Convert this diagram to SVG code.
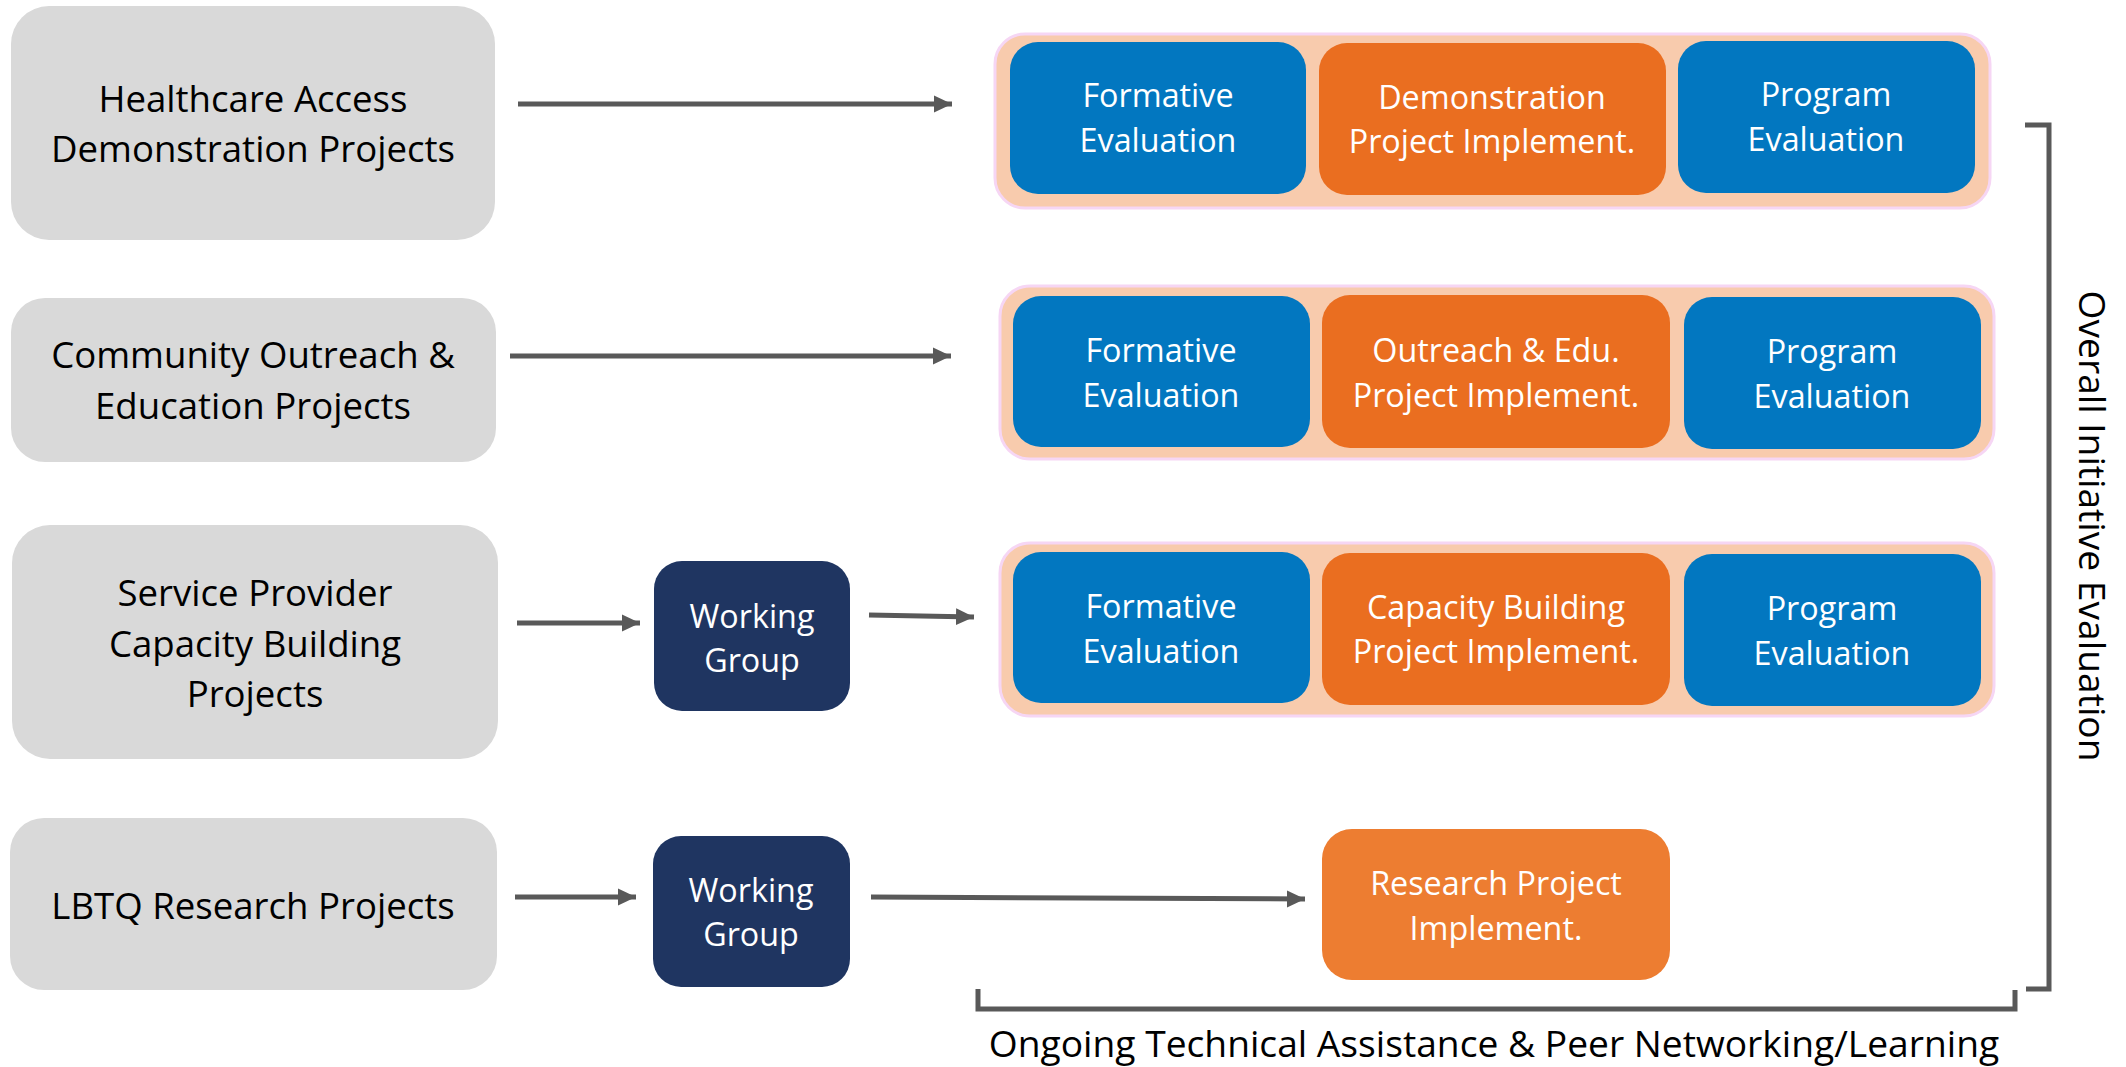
<svg xmlns="http://www.w3.org/2000/svg" width="2126" height="1067" viewBox="0 0 2126 1067">
<defs>
<style>
.src{fill:#D9D9D9}
.srct{font-family:"Open Sans","Liberation Sans",sans-serif;font-size:36.6px;fill:#000;text-anchor:middle}
.band{fill:#F8CBAD;stroke:#F6D6F4;stroke-width:3}
.blue{fill:#0277C0}
.org{fill:#EA6E20}
.org2{fill:#ED7D31}
.navy{fill:#1F3561}
.wt{font-family:"Open Sans","Liberation Sans",sans-serif;font-size:32.3px;fill:#fff;text-anchor:middle}
.big{font-family:"Open Sans","Liberation Sans",sans-serif;font-size:37.2px;fill:#000;text-anchor:middle}
.conn{stroke:#595959;stroke-width:5;fill:none}
.brk{stroke:#595959;stroke-width:5;fill:none}
</style>
<marker id="ah" markerUnits="userSpaceOnUse" markerWidth="20" markerHeight="20" viewBox="0 0 20 20" refX="18" refY="10" orient="auto">
<path d="M0,1.5 L18,10 L0,18.5 Z" fill="#595959"/>
</marker>
</defs>
<rect width="2126" height="1067" fill="#fff"/>

<g id="healthcare">
<rect class="src" x="11" y="6" width="484" height="234" rx="38"/>
<text class="srct" x="253" y="112">Healthcare Access</text>
<text class="srct" x="253" y="162">Demonstration Projects</text>
</g>
<g id="community">
<rect class="src" x="11" y="298" width="485" height="164" rx="34"/>
<text class="srct" x="253" y="368">Community Outreach &amp;</text>
<text class="srct" x="253" y="419">Education Projects</text>
</g>
<g id="service">
<rect class="src" x="12" y="525" width="486" height="234" rx="38"/>
<text class="srct" x="255" y="606">Service Provider</text>
<text class="srct" x="255" y="657">Capacity Building</text>
<text class="srct" x="255" y="707">Projects</text>
</g>
<g id="lbtq">
<rect class="src" x="10" y="818" width="487" height="172" rx="34"/>
<text class="srct" x="253" y="919">LBTQ Research Projects</text>
</g>

<g id="row1">
<rect class="band" x="995" y="34" width="995" height="174" rx="30"/>
</g>
<g id="formative1">
<rect class="blue" x="1010" y="42" width="296" height="152" rx="28"/>
<text class="wt" x="1158" y="107">Formative</text>
<text class="wt" x="1158" y="152">Evaluation</text>
</g>
<g id="demo-impl">
<rect class="org" x="1319" y="43" width="347" height="152" rx="28"/>
<text class="wt" x="1492" y="109">Demonstration</text>
<text class="wt" x="1492" y="153">Project Implement.</text>
</g>
<g id="program1">
<rect class="blue" x="1678" y="41" width="297" height="152" rx="28"/>
<text class="wt" x="1826" y="106">Program</text>
<text class="wt" x="1826" y="151">Evaluation</text>
</g>

<g id="row2">
<rect class="band" x="1000" y="286" width="994" height="173" rx="30"/>
</g>
<g id="formative2">
<rect class="blue" x="1013" y="296" width="297" height="151" rx="28"/>
<text class="wt" x="1161" y="362">Formative</text>
<text class="wt" x="1161" y="407">Evaluation</text>
</g>
<g id="outreach-impl">
<rect class="org" x="1322" y="295" width="348" height="153" rx="28"/>
<text class="wt" x="1496" y="362">Outreach &amp; Edu.</text>
<text class="wt" x="1496" y="407">Project Implement.</text>
</g>
<g id="program2">
<rect class="blue" x="1684" y="297" width="297" height="152" rx="28"/>
<text class="wt" x="1832" y="363">Program</text>
<text class="wt" x="1832" y="408">Evaluation</text>
</g>

<g id="row3">
<rect class="band" x="1000" y="543" width="994" height="173" rx="30"/>
</g>
<g id="formative3">
<rect class="blue" x="1013" y="552" width="297" height="151" rx="28"/>
<text class="wt" x="1161" y="618">Formative</text>
<text class="wt" x="1161" y="663">Evaluation</text>
</g>
<g id="capacity-impl">
<rect class="org" x="1322" y="553" width="348" height="152" rx="28"/>
<text class="wt" x="1496" y="619">Capacity Building</text>
<text class="wt" x="1496" y="663">Project Implement.</text>
</g>
<g id="program3">
<rect class="blue" x="1684" y="554" width="297" height="152" rx="28"/>
<text class="wt" x="1832" y="620">Program</text>
<text class="wt" x="1832" y="665">Evaluation</text>
</g>

<g id="wg1">
<rect class="navy" x="654" y="561" width="196" height="150" rx="28"/>
<text class="wt" x="752" y="628">Working</text>
<text class="wt" x="752" y="672">Group</text>
</g>
<g id="wg2">
<rect class="navy" x="653" y="836" width="197" height="151" rx="28"/>
<text class="wt" x="751" y="902">Working</text>
<text class="wt" x="751" y="946">Group</text>
</g>
<g id="research-impl">
<rect class="org2" x="1322" y="829" width="348" height="151" rx="30"/>
<text class="wt" x="1496" y="895">Research Project</text>
<text class="wt" x="1496" y="940">Implement.</text>
</g>

<g id="connectors">
<line class="conn" x1="518" y1="104" x2="952" y2="104" marker-end="url(#ah)"/>
<line class="conn" x1="510" y1="356" x2="951" y2="356" marker-end="url(#ah)"/>
<line class="conn" x1="517" y1="623" x2="640" y2="623" marker-end="url(#ah)"/>
<line class="conn" x1="869" y1="615" x2="974" y2="617" marker-end="url(#ah)"/>
<line class="conn" x1="515" y1="897" x2="636" y2="897" marker-end="url(#ah)"/>
<line class="conn" x1="871" y1="897" x2="1305" y2="899" marker-end="url(#ah)"/>
</g>

<g id="overall-evaluation">
<path class="brk" d="M2025,125 H2049 V989 H2026"/>
<text class="big" transform="translate(2079,526) rotate(90)">Overall Initiative Evaluation</text>
</g>
<g id="ongoing-ta">
<path class="brk" d="M978,989 V1009 H2015 V990"/>
<text class="big" x="1494" y="1057">Ongoing Technical Assistance &amp; Peer Networking/Learning</text>
</g>
</svg>
